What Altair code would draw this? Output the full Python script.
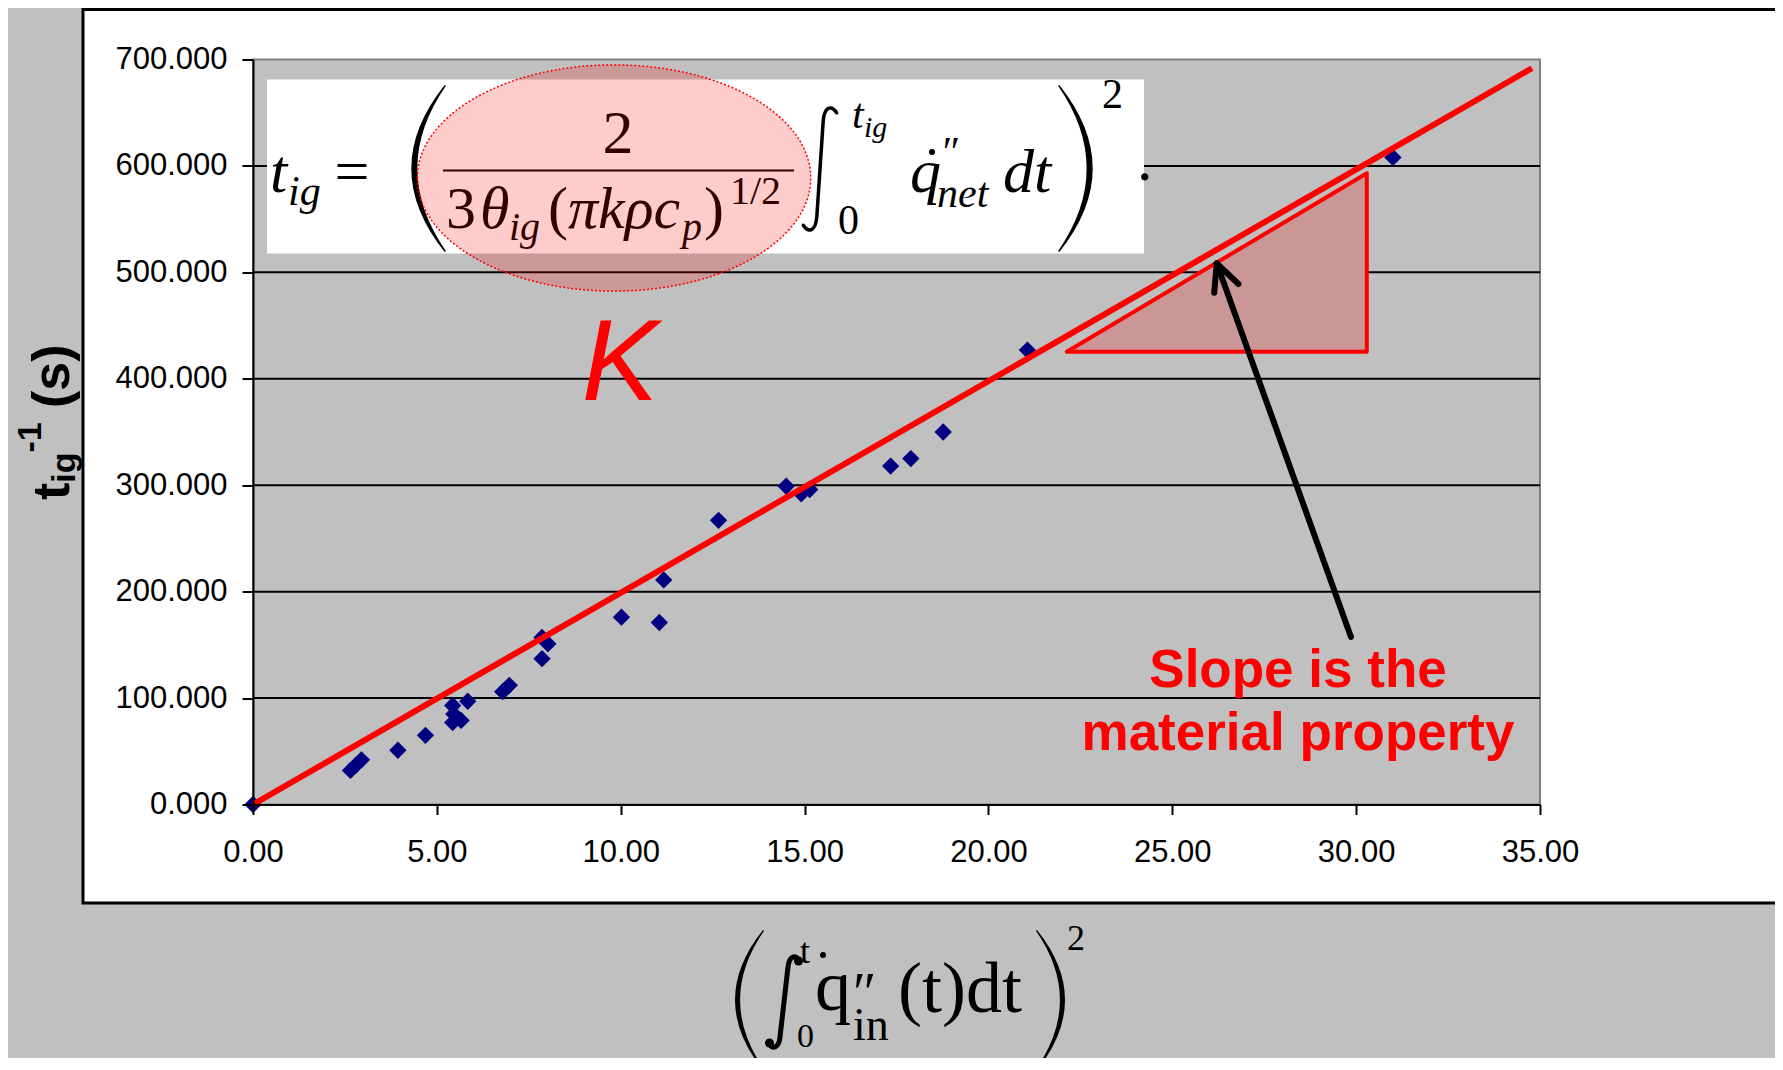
import altair as alt
import pandas as pd

# ---------------- data ----------------
x_vals = [0.0, 2.65, 2.80, 2.95, 3.94, 4.69, 5.43, 5.46, 5.43, 5.66, 5.84, 6.79, 6.97,
          7.86, 7.86, 8.02, 10.02, 11.05, 11.17, 12.66, 14.50, 14.91, 15.14, 17.34,
          17.89, 18.77, 21.06, 31.00]
y_vals = [0, 32, 37, 42, 51, 65, 93, 85, 77, 79, 97, 106, 112,
          137, 157, 151, 176, 171, 211, 267, 299, 292, 296, 318,
          325, 350, 427, 608]

fit_x = [0.0, 34.78]
fit_y = [0.0, 691.8]

tri_x = [22.13, 30.29]
tri_top = [425.4, 593.1]
tri_base = [425.4, 425.4]

arrow_x = [29.86, 26.21, 26.14, 26.21, 26.80]
arrow_y = [157.4, 508.5, 480.9, 508.5, 489.1]
arrow_part = ["shaft", "shaft", "head", "head", "head"]
arrow_order = [0, 1, 0, 1, 2]

x_ticks = [0, 5, 10, 15, 20, 25, 30, 35]
y_ticks = [0, 100, 200, 300, 400, 500, 600, 700]
grid_y = [100, 200, 300, 400, 500, 600]

# ---------------- layout ----------------
W, H = 1287, 745          # plot area
OX, OY = 253, 59.5        # page position of plot's top-left corner
SANS = "Liberation Sans"
SERIF = "Liberation Serif"

xs = alt.Scale(domain=[0, 35], nice=False, zero=False)
ys = alt.Scale(domain=[0, 700], nice=False, zero=False)
xaxis = alt.Axis(values=x_ticks, format=".2f", grid=False, tickSize=10, tickWidth=2,
                 tickColor="black", domainColor="black", domainWidth=2,
                 labelFont=SANS, labelFontSize=31, labelColor="black", labelPadding=23,
                 labelFlush=False, labelOverlap=False, title=None, zindex=1)
yaxis = alt.Axis(values=y_ticks, format=".3f", grid=False, tickSize=11, tickWidth=2,
                 tickColor="black", domainColor="black", domainWidth=2,
                 labelFont=SANS, labelFontSize=31, labelColor="black", labelPadding=15,
                 labelOverlap=False, title=None, zindex=1)

one = pd.DataFrame({"k": [0]})


def prect(x1, y1, x2, y2, **kw):
    return alt.Chart(one).mark_rect(**kw).encode(
        x=alt.value(x1 - OX), x2=alt.value(x2 - OX),
        y=alt.value(y1 - OY), y2=alt.value(y2 - OY))


def T(s, x, y, size, font=SERIF, style="normal", weight="normal", align="left",
      color="black", angle=None):
    kw = dict(text=s, font=font, fontSize=size, fontStyle=style, fontWeight=weight,
              align=align, baseline="alphabetic", color=color)
    if angle is not None:
        kw["angle"] = angle
    return alt.Chart(one).mark_text(**kw).encode(x=alt.value(x - OX), y=alt.value(y - OY))


def shape(path, cx, cy, side, filled=True, **kw):
    return alt.Chart(one).mark_point(shape=path, size=side * side, filled=filled,
                                     opacity=1, **kw).encode(
        x=alt.value(cx - OX), y=alt.value(cy - OY))


LPAREN = "M0.2,-1 Q-0.6,0 0.2,1 L0.215,0.99 Q-0.47,0 0.215,-0.99 Z"
RPAREN = "M-0.2,-1 Q0.6,0 -0.2,1 L-0.215,0.99 Q0.47,0 -0.215,-0.99 Z"
INTEG = "M0.26,-0.88 C0.18,-1.0 0.07,-0.98 0.05,-0.75 L-0.05,0.75 C-0.07,0.98 -0.18,1.0 -0.26,0.88"
INTEG2 = "M0.31,-0.86 C0.25,-1.0 0.1,-0.97 0.08,-0.7 L-0.08,0.7 C-0.1,0.97 -0.25,1.0 -0.31,0.86"
ELLIPSE = "M-1,0 A1,0.575 0 1,1 1,0 A1,0.575 0 1,1 -1,0 Z"

layers = []
# chart box and plot area
layers.append(prect(83, 9.5, 1777, 903, fill="white", stroke="black", strokeWidth=3))
layers.append(prect(OX, OY, OX + W, OY + H, fill="#C0C0C0", stroke="#808080", strokeWidth=2))

# gridlines
gdf = pd.DataFrame({"g": grid_y})
layers.append(alt.Chart(gdf).mark_rule(color="black", strokeWidth=2).encode(
    y=alt.Y("g:Q", scale=ys, axis=yaxis)))

# formula box
layers.append(prect(267, 79.5, 1144, 253.5, fill="white"))
layers += [
    T("t", 270, 192, 62, style="italic"),
    T("ig", 288, 205, 42, style="italic"),
    T("=", 352, 192, 62, align="center"),
    shape(LPAREN, 428, 168.5, 167, color="black"),
    alt.Chart(one).mark_rule(color="black", strokeWidth=2).encode(
        x=alt.value(443 - OX), x2=alt.value(794 - OX), y=alt.value(170.5 - OY)),
    T("2", 618, 153, 62, align="center"),
    T("3", 446, 228, 60),
    T("θ", 480, 228, 60, style="italic"),
    T("ig", 509, 240, 40, style="italic"),
    T("(", 548, 228, 60),
    T("πkρc", 568, 228, 60, style="italic"),
    T("p", 682, 240, 40, style="italic"),
    T(")", 704, 228, 60),
    T("1/2", 730, 204, 40),
    shape(INTEG, 820, 169, 128, filled=False, color="black", strokeWidth=3.5, strokeCap="round"),
    T("t", 852, 128, 42, style="italic"),
    T("ig", 864, 137, 30, style="italic"),
    T("0", 838, 234, 42),
    T("q", 910, 192, 62, style="italic"),
    shape("circle", 932, 152, 6, color="black"),
    T("″", 940, 166, 42, style="italic"),
    T("net", 937, 207, 42, style="italic"),
    T("dt", 1003, 192, 62, style="italic"),
    shape(RPAREN, 1076, 168.5, 167, color="black"),
    T("2", 1102, 108, 42),
    T(".", 1137, 180, 62),
]
# highlighted ellipse
layers.append(alt.Chart(one).mark_point(
    shape=ELLIPSE, size=393.4 * 393.4, filled=True, opacity=1,
    fill="#FF0000", fillOpacity=0.2, stroke="#FF0000", strokeOpacity=1,
    strokeWidth=1.5, strokeDash=[2, 2]).encode(
    x=alt.value(614 - OX), y=alt.value(178 - OY)))

# slope triangle
tdf = pd.DataFrame({"x": tri_x, "y": tri_top, "y2": tri_base})
layers.append(alt.Chart(tdf).mark_area(fill="#CB9696", stroke="#FF0000", strokeWidth=4,
                                       strokeJoin="round", opacity=1).encode(
    x=alt.X("x:Q", scale=xs, axis=xaxis), y=alt.Y("y:Q", scale=ys, axis=yaxis), y2="y2:Q"))

# data points
pdf = pd.DataFrame({"x": x_vals, "y": y_vals})
layers.append(alt.Chart(pdf).mark_point(shape="diamond", filled=True, color="#000080",
                                        size=300, opacity=1).encode(
    x=alt.X("x:Q", scale=xs, axis=xaxis), y=alt.Y("y:Q", scale=ys, axis=yaxis)))

# fitted line
fdf = pd.DataFrame({"x": fit_x, "y": fit_y})
layers.append(alt.Chart(fdf).mark_line(color="#FF0000", strokeWidth=6).encode(
    x=alt.X("x:Q", scale=xs, axis=xaxis), y=alt.Y("y:Q", scale=ys, axis=yaxis)))

# arrow
adf = pd.DataFrame({"x": arrow_x, "y": arrow_y, "part": arrow_part, "o": arrow_order})
layers.append(alt.Chart(adf).mark_line(color="black", strokeWidth=6, strokeCap="round",
                                       strokeJoin="round").encode(
    x=alt.X("x:Q", scale=xs, axis=xaxis), y=alt.Y("y:Q", scale=ys, axis=yaxis),
    detail="part:N", order="o:Q"))

# annotations
layers += [
    T("K", 620, 400, 115, font=SANS, style="italic", align="center", color="#FF0000"),
    T("Slope is the", 1298, 687, 53, font=SANS, weight="bold", align="center", color="#FF0000"),
    T("material property", 1298, 750, 53, font=SANS, weight="bold", align="center", color="#FF0000"),
]

# y title (rotated)
layers += [
    T("t", 69, 500, 52, font=SANS, weight="bold", angle=270),
    T("ig", 75, 482.7, 34, font=SANS, weight="bold", angle=270),
    T("-1", 41, 452.5, 34, font=SANS, weight="bold", angle=270),
    T("(s)", 69, 408, 52, font=SANS, weight="bold", angle=270),
]

# x title
layers += [
    shape(LPAREN, 749, 1000, 140, color="black"),
    shape(INTEG2, 784, 1002, 96, filled=False, color="black", strokeWidth=5, strokeCap="round"),
    shape("circle", 798.5, 961, 9, color="black"),
    shape("circle", 769.5, 1043, 9, color="black"),
    T("t", 800, 963, 36),
    T("0", 797, 1047, 34),
    T("q", 815, 1010, 72),
    shape("circle", 823, 955, 6, color="black"),
    T("″", 853, 1012, 56),
    T("in", 853, 1040, 46),
    T("(t)dt", 898, 1012, 72),
    shape(RPAREN, 1051, 1000, 140, color="black"),
    T("2", 1067, 950, 36),
]

chart = alt.layer(*layers).properties(
    width=W, height=H,
    autosize=alt.AutoSizeParams(type="none"),
    padding={"left": OX - 8, "top": OY - 8, "right": 1775 - (OX + W), "bottom": 1058 - (OY + H)},
).configure(background="#C0C0C0").configure_view(strokeWidth=0)

chart.save("out.html", embed_options={"renderer": "svg", "actions": False})
